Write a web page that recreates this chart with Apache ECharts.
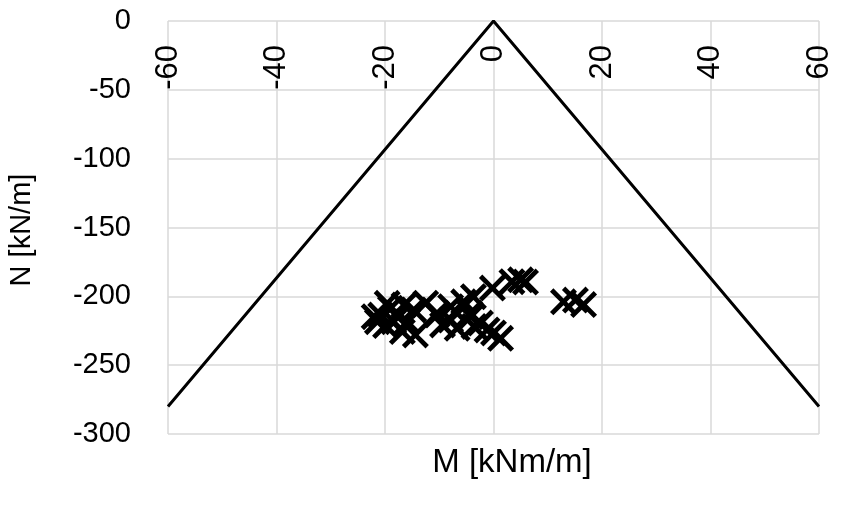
<!DOCTYPE html>
<html>
<head>
<meta charset="utf-8">
<script src="https://cdn.jsdelivr.net/npm/echarts@6/dist/echarts.min.js"></script>
<style>
  html, body { margin: 0; padding: 0; background: #fff; }
  #chart { width: 844px; height: 510px; }
</style>
</head>
<body>
<div id="chart"></div>
<script>
// Interaction envelope: M limits against axial force N
var envelopeM = [-60, 0, 60];
var envelopeN = [-280, 0, -280];

// Load cases (M [kNm/m], N [kN/m])
var pointsM = [
  5.0, 3.4, -0.2, -3.7, -5.5, -7.9, -10.4, -9.4, -1.2, 1.3, 0.0, -4.2, -2.4,
  -12.5, -10.4, -14.7, -15.9, -16.8, -14.4, -17.7, -19.0, -20.8, -21.4, -22.0,
  -19.9, -18.4, -16.5, -19.6, -7.9, -6.7, -4.3, -3.6,
  5.9, 12.9, 15.1, 16.6
];
var pointsN = [
  -188, -189.4, -194, -200.3, -204, -207.5, -213.6, -220.8, -224.4, -230.5, -226.6, -214.8, -219.4,
  -205, -212.3, -209.9, -218.4, -225.6, -228, -214.8, -208.7, -213.6, -218.4, -214.8,
  -221.2, -218.4, -206.3, -205.1, -217.2, -223.2, -212.3, -221.9,
  -189.6, -204, -202.7, -206
];

// Axis ticks
var xTicks = { min: -60, max: 60, step: 20 };
var yTicks = { min: -300, max: 0, step: 50 };

var envelopeData = envelopeM.map(function (m, i) { return [m, envelopeN[i]]; });
var pointData = pointsM.map(function (m, i) { return [m, pointsN[i]]; });

// Filled "X" glyph drawn in a 24x24 box
var d = 3.0;
var crossPath = 'path://M0,' + d + 'L' + d + ',0L12,' + (12 - d) + 'L' + (24 - d) + ',0L24,' + d +
  'L' + (12 + d) + ',12L24,' + (24 - d) + 'L' + (24 - d) + ',24L12,' + (12 + d) +
  'L' + d + ',24L0,' + (24 - d) + 'L' + (12 - d) + ',12Z';

var font = '"Liberation Sans", Arial, sans-serif';

var chart = echarts.init(document.getElementById('chart'), null, { renderer: 'canvas' });
chart.setOption({
  backgroundColor: '#ffffff',
  animation: false,
  grid: { left: 168, right: 25, top: 21, bottom: 76, containLabel: false },
  xAxis: {
    type: 'value',
    position: 'top',
    min: xTicks.min, max: xTicks.max, interval: xTicks.step,
    axisLine: { show: false },
    axisTick: { show: false },
    axisLabel: {
      inside: true, rotate: 90, margin: 24,
      fontFamily: font, fontSize: 31, color: '#000'
    },
    splitLine: { show: true, lineStyle: { color: '#d9d9d9', width: 1.5 } }
  },
  yAxis: {
    type: 'value',
    min: yTicks.min, max: yTicks.max, interval: yTicks.step,
    axisLine: { show: false },
    axisTick: { show: false },
    axisLabel: { margin: 37, fontFamily: font, fontSize: 29, color: '#000' },
    splitLine: { show: true, lineStyle: { color: '#d9d9d9', width: 1.5 } }
  },
  graphic: [
    {
      type: 'text', x: 512, y: 463,
      style: { text: 'M [kNm/m]', font: '33px ' + font, fill: '#000', align: 'center', verticalAlign: 'middle' }
    },
    {
      type: 'text', x: 22, y: 230, rotation: Math.PI / 2,
      style: { text: 'N [kN/m]', font: '29px ' + font, fill: '#000', align: 'center', verticalAlign: 'middle' }
    }
  ],
  series: [
    {
      type: 'line',
      data: envelopeData,
      symbol: 'none',
      lineStyle: { color: '#000', width: 3 },
      z: 3
    },
    {
      type: 'scatter',
      data: pointData,
      symbol: crossPath,
      symbolSize: 27,
      itemStyle: { color: '#000', opacity: 1 },
      z: 4
    }
  ]
});
</script>
</body>
</html>
